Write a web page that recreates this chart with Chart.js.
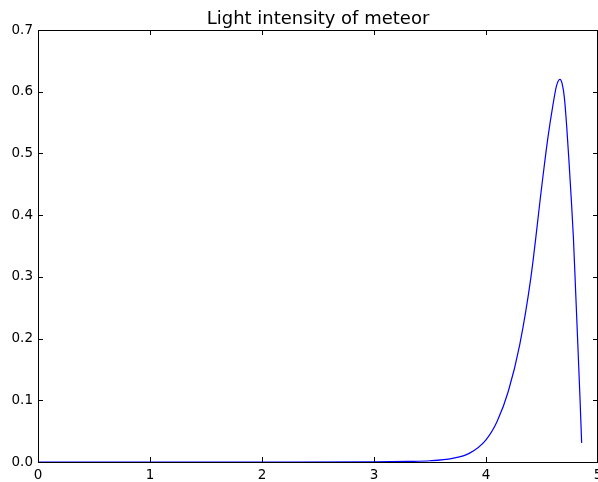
<!DOCTYPE html>
<html>
<head>
  <meta charset="UTF-8" />
  <title>Light intensity of meteor</title>
  <script src="https://cdn.jsdelivr.net/npm/chart.js"></script>
  <style>
    body { margin: 0; padding: 0; background: #fff; }
    #wrap { width: 598px; height: 482px; position: relative; }
  </style>
</head>
<body>
  <div id="wrap"><canvas id="grafico"></canvas></div>
  <script>
    // values
    const tempo = [0, 1, 2, 3, 3.3, 3.5, 3.7, 3.85, 4.0, 4.1, 4.2, 4.3, 4.4, 4.5, 4.55, 4.6, 4.63, 4.66, 4.68, 4.70, 4.72, 4.74, 4.76, 4.78, 4.80, 4.82, 4.84, 4.854];
    const intensidade = [0, 0, 0, 0.0003, 0.001, 0.002, 0.006, 0.014, 0.036, 0.066, 0.115, 0.189, 0.298, 0.45, 0.522, 0.581, 0.61, 0.62, 0.613, 0.59, 0.545, 0.49, 0.43, 0.365, 0.278, 0.19, 0.10, 0.031];
    const xTicks = [0, 1, 2, 3, 4, 5];
    const yTicks = [0, 0.1, 0.2, 0.3, 0.4, 0.5, 0.6, 0.7];

    const fonte = '"DejaVu Sans", sans-serif';

    // matplotlib-like frame: box + inward ticks on all sides + title over the plot area
    const moldura = {
      id: 'moldura',
      afterDraw(chart) {
        const { ctx, chartArea: a, scales } = chart;
        ctx.save();
        ctx.strokeStyle = '#000';
        ctx.lineWidth = 1;
        ctx.strokeRect(Math.round(a.left) + 0.5, Math.round(a.top) + 0.5,
          Math.round(a.right - a.left) - 1, Math.round(a.bottom - a.top));
        ctx.beginPath();
        xTicks.forEach(v => {
          const px = Math.round(scales.x.getPixelForValue(v)) + 0.5;
          ctx.moveTo(px, a.bottom); ctx.lineTo(px, a.bottom - 5);
          ctx.moveTo(px, a.top); ctx.lineTo(px, a.top + 5);
        });
        yTicks.forEach(v => {
          const py = Math.round(scales.y.getPixelForValue(v)) + 0.5;
          ctx.moveTo(a.left, py); ctx.lineTo(a.left + 5, py);
          ctx.moveTo(a.right, py); ctx.lineTo(a.right - 5, py);
        });
        ctx.stroke();
        ctx.fillStyle = '#000';
        ctx.font = '18px ' + fonte;
        ctx.textAlign = 'center';
        ctx.textBaseline = 'alphabetic';
        ctx.fillText('Light intensity of meteor', (a.left + a.right) / 2, 24);
        ctx.restore();
      }
    };

    new Chart(document.getElementById('grafico'), {
      type: 'line',
      data: {
        datasets: [{
          data: tempo.map((t, i) => ({ x: t, y: intensidade[i] })),
          borderColor: '#0000ff',
          borderWidth: 1.2,
          pointRadius: 0,
          fill: false,
          cubicInterpolationMode: 'monotone'
        }]
      },
      options: {
        responsive: true,
        maintainAspectRatio: false,
        animation: false,
        layout: { padding: { top: 30, left: 0, right: 0, bottom: 0 } },
        plugins: { legend: { display: false }, tooltip: { enabled: false }, title: { display: false } },
        scales: {
          x: {
            type: 'linear',
            min: 0, max: 5,
            afterBuildTicks: s => { s.ticks = xTicks.map(v => ({ value: v })); },
            afterFit: s => { s.height = 20; s.paddingLeft = 0; s.paddingRight = 0; },
            grid: { display: false, drawTicks: false },
            border: { display: false },
            ticks: { color: '#000', padding: 5, maxRotation: 0, font: { family: fonte, size: 13.5 }, callback: v => String(v) }
          },
          y: {
            min: 0, max: 0.7,
            afterBuildTicks: s => { s.ticks = yTicks.map(v => ({ value: v })); },
            afterFit: s => { s.width = 38; },
            grid: { display: false, drawTicks: false },
            border: { display: false },
            ticks: { color: '#000', padding: 5, font: { family: fonte, size: 13.5 }, callback: v => Number(v).toFixed(1) }
          }
        }
      },
      plugins: [moldura]
    });
  </script>
</body>
</html>
